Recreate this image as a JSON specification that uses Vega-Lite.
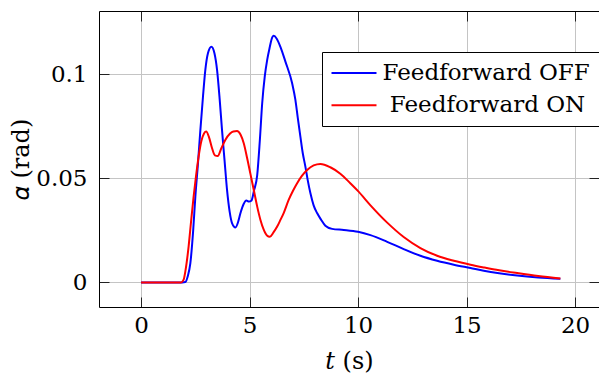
{
  "$schema": "https://vega.github.io/schema/vega-lite/v6.json",
  "width": 500,
  "height": 296,
  "autosize": {"type": "none"},
  "padding": {"left": 99, "top": 11, "right": 0, "bottom": 74},
  "background": "white",
  "config": {
    "view": {"stroke": null},
    "font": "DejaVu Serif",
    "axis": {
      "labelFont": "DejaVu Serif",
      "labelFontSize": 23,
      "labelColor": "black",
      "titleFont": "DejaVu Serif",
      "titleFontSize": 24,
      "titleFontWeight": "normal",
      "titleColor": "black",
      "domainColor": "black",
      "domainWidth": 1,
      "tickColor": "#222222",
      "tickWidth": 1,
      "tickSize": -10,
      "gridColor": "#c4c4c4",
      "gridWidth": 1
    },
    "legend": {
      "labelFont": "DejaVu Serif",
      "labelFontSize": 23,
      "labelColor": "black"
    }
  },
  "data": {
    "values": [
      {"t": 0, "alpha": 0, "series": "Feedforward OFF"},
      {"t": 1.0, "alpha": 0, "series": "Feedforward OFF"},
      {"t": 1.9, "alpha": 0, "series": "Feedforward OFF"},
      {"t": 2.04, "alpha": 0.0002, "series": "Feedforward OFF"},
      {"t": 2.15, "alpha": 0.003, "series": "Feedforward OFF"},
      {"t": 2.27, "alpha": 0.0093, "series": "Feedforward OFF"},
      {"t": 2.40, "alpha": 0.025, "series": "Feedforward OFF"},
      {"t": 2.50, "alpha": 0.0412, "series": "Feedforward OFF"},
      {"t": 2.62, "alpha": 0.057, "series": "Feedforward OFF"},
      {"t": 2.73, "alpha": 0.073, "series": "Feedforward OFF"},
      {"t": 2.85, "alpha": 0.089, "series": "Feedforward OFF"},
      {"t": 2.96, "alpha": 0.102, "series": "Feedforward OFF"},
      {"t": 3.08, "alpha": 0.110, "series": "Feedforward OFF"},
      {"t": 3.24, "alpha": 0.1131, "series": "Feedforward OFF"},
      {"t": 3.38, "alpha": 0.110, "series": "Feedforward OFF"},
      {"t": 3.50, "alpha": 0.102, "series": "Feedforward OFF"},
      {"t": 3.62, "alpha": 0.088, "series": "Feedforward OFF"},
      {"t": 3.73, "alpha": 0.073, "series": "Feedforward OFF"},
      {"t": 3.85, "alpha": 0.058, "series": "Feedforward OFF"},
      {"t": 3.96, "alpha": 0.0444, "series": "Feedforward OFF"},
      {"t": 4.08, "alpha": 0.034, "series": "Feedforward OFF"},
      {"t": 4.19, "alpha": 0.0285, "series": "Feedforward OFF"},
      {"t": 4.35, "alpha": 0.0264, "series": "Feedforward OFF"},
      {"t": 4.47, "alpha": 0.029, "series": "Feedforward OFF"},
      {"t": 4.58, "alpha": 0.0333, "series": "Feedforward OFF"},
      {"t": 4.72, "alpha": 0.0375, "series": "Feedforward OFF"},
      {"t": 4.85, "alpha": 0.0393, "series": "Feedforward OFF"},
      {"t": 4.97, "alpha": 0.0388, "series": "Feedforward OFF"},
      {"t": 5.08, "alpha": 0.0392, "series": "Feedforward OFF"},
      {"t": 5.20, "alpha": 0.044, "series": "Feedforward OFF"},
      {"t": 5.35, "alpha": 0.0515, "series": "Feedforward OFF"},
      {"t": 5.47, "alpha": 0.068, "series": "Feedforward OFF"},
      {"t": 5.58, "alpha": 0.086, "series": "Feedforward OFF"},
      {"t": 5.70, "alpha": 0.099, "series": "Feedforward OFF"},
      {"t": 5.81, "alpha": 0.1068, "series": "Feedforward OFF"},
      {"t": 5.93, "alpha": 0.113, "series": "Feedforward OFF"},
      {"t": 6.02, "alpha": 0.117, "series": "Feedforward OFF"},
      {"t": 6.11, "alpha": 0.1184, "series": "Feedforward OFF"},
      {"t": 6.25, "alpha": 0.117, "series": "Feedforward OFF"},
      {"t": 6.42, "alpha": 0.1131, "series": "Feedforward OFF"},
      {"t": 6.65, "alpha": 0.106, "series": "Feedforward OFF"},
      {"t": 6.96, "alpha": 0.0956, "series": "Feedforward OFF"},
      {"t": 7.11, "alpha": 0.0876, "series": "Feedforward OFF"},
      {"t": 7.22, "alpha": 0.079, "series": "Feedforward OFF"},
      {"t": 7.34, "alpha": 0.070, "series": "Feedforward OFF"},
      {"t": 7.45, "alpha": 0.062, "series": "Feedforward OFF"},
      {"t": 7.57, "alpha": 0.0556, "series": "Feedforward OFF"},
      {"t": 7.68, "alpha": 0.049, "series": "Feedforward OFF"},
      {"t": 7.80, "alpha": 0.0429, "series": "Feedforward OFF"},
      {"t": 7.95, "alpha": 0.037, "series": "Feedforward OFF"},
      {"t": 8.11, "alpha": 0.0333, "series": "Feedforward OFF"},
      {"t": 8.30, "alpha": 0.030, "series": "Feedforward OFF"},
      {"t": 8.49, "alpha": 0.0272, "series": "Feedforward OFF"},
      {"t": 8.80, "alpha": 0.0257, "series": "Feedforward OFF"},
      {"t": 9.34, "alpha": 0.0252, "series": "Feedforward OFF"},
      {"t": 10.0, "alpha": 0.0243, "series": "Feedforward OFF"},
      {"t": 10.57, "alpha": 0.0227, "series": "Feedforward OFF"},
      {"t": 11.34, "alpha": 0.0195, "series": "Feedforward OFF"},
      {"t": 12.10, "alpha": 0.016, "series": "Feedforward OFF"},
      {"t": 12.87, "alpha": 0.0128, "series": "Feedforward OFF"},
      {"t": 13.64, "alpha": 0.0104, "series": "Feedforward OFF"},
      {"t": 14.41, "alpha": 0.0085, "series": "Feedforward OFF"},
      {"t": 15.18, "alpha": 0.0069, "series": "Feedforward OFF"},
      {"t": 15.79, "alpha": 0.0056, "series": "Feedforward OFF"},
      {"t": 16.5, "alpha": 0.0044, "series": "Feedforward OFF"},
      {"t": 17.33, "alpha": 0.0033, "series": "Feedforward OFF"},
      {"t": 18.3, "alpha": 0.0024, "series": "Feedforward OFF"},
      {"t": 19.32, "alpha": 0.0018, "series": "Feedforward OFF"},
      {"t": 0, "alpha": 0, "series": "Feedforward ON"},
      {"t": 1.0, "alpha": 0, "series": "Feedforward ON"},
      {"t": 1.85, "alpha": 0, "series": "Feedforward ON"},
      {"t": 1.96, "alpha": 0.0013, "series": "Feedforward ON"},
      {"t": 2.05, "alpha": 0.006, "series": "Feedforward ON"},
      {"t": 2.19, "alpha": 0.0173, "series": "Feedforward ON"},
      {"t": 2.30, "alpha": 0.029, "series": "Feedforward ON"},
      {"t": 2.42, "alpha": 0.0412, "series": "Feedforward ON"},
      {"t": 2.53, "alpha": 0.051, "series": "Feedforward ON"},
      {"t": 2.65, "alpha": 0.0604, "series": "Feedforward ON"},
      {"t": 2.78, "alpha": 0.068, "series": "Feedforward ON"},
      {"t": 2.90, "alpha": 0.0715, "series": "Feedforward ON"},
      {"t": 3.00, "alpha": 0.0724, "series": "Feedforward ON"},
      {"t": 3.12, "alpha": 0.070, "series": "Feedforward ON"},
      {"t": 3.27, "alpha": 0.0644, "series": "Feedforward ON"},
      {"t": 3.40, "alpha": 0.061, "series": "Feedforward ON"},
      {"t": 3.53, "alpha": 0.0607, "series": "Feedforward ON"},
      {"t": 3.70, "alpha": 0.0645, "series": "Feedforward ON"},
      {"t": 3.88, "alpha": 0.0684, "series": "Feedforward ON"},
      {"t": 4.10, "alpha": 0.0715, "series": "Feedforward ON"},
      {"t": 4.25, "alpha": 0.0725, "series": "Feedforward ON"},
      {"t": 4.42, "alpha": 0.0727, "series": "Feedforward ON"},
      {"t": 4.58, "alpha": 0.071, "series": "Feedforward ON"},
      {"t": 4.73, "alpha": 0.0668, "series": "Feedforward ON"},
      {"t": 4.88, "alpha": 0.060, "series": "Feedforward ON"},
      {"t": 5.04, "alpha": 0.052, "series": "Feedforward ON"},
      {"t": 5.20, "alpha": 0.044, "series": "Feedforward ON"},
      {"t": 5.35, "alpha": 0.0364, "series": "Feedforward ON"},
      {"t": 5.50, "alpha": 0.030, "series": "Feedforward ON"},
      {"t": 5.65, "alpha": 0.0253, "series": "Feedforward ON"},
      {"t": 5.80, "alpha": 0.0225, "series": "Feedforward ON"},
      {"t": 5.93, "alpha": 0.0219, "series": "Feedforward ON"},
      {"t": 6.10, "alpha": 0.024, "series": "Feedforward ON"},
      {"t": 6.27, "alpha": 0.0268, "series": "Feedforward ON"},
      {"t": 6.42, "alpha": 0.030, "series": "Feedforward ON"},
      {"t": 6.57, "alpha": 0.0333, "series": "Feedforward ON"},
      {"t": 6.80, "alpha": 0.0396, "series": "Feedforward ON"},
      {"t": 7.00, "alpha": 0.044, "series": "Feedforward ON"},
      {"t": 7.19, "alpha": 0.0476, "series": "Feedforward ON"},
      {"t": 7.40, "alpha": 0.051, "series": "Feedforward ON"},
      {"t": 7.65, "alpha": 0.054, "series": "Feedforward ON"},
      {"t": 7.95, "alpha": 0.0562, "series": "Feedforward ON"},
      {"t": 8.26, "alpha": 0.0569, "series": "Feedforward ON"},
      {"t": 8.72, "alpha": 0.0553, "series": "Feedforward ON"},
      {"t": 9.18, "alpha": 0.0522, "series": "Feedforward ON"},
      {"t": 9.65, "alpha": 0.0475, "series": "Feedforward ON"},
      {"t": 10.0, "alpha": 0.0438, "series": "Feedforward ON"},
      {"t": 10.57, "alpha": 0.037, "series": "Feedforward ON"},
      {"t": 11.34, "alpha": 0.0287, "series": "Feedforward ON"},
      {"t": 12.10, "alpha": 0.0218, "series": "Feedforward ON"},
      {"t": 12.87, "alpha": 0.0165, "series": "Feedforward ON"},
      {"t": 13.64, "alpha": 0.0128, "series": "Feedforward ON"},
      {"t": 14.41, "alpha": 0.0104, "series": "Feedforward ON"},
      {"t": 15.18, "alpha": 0.0085, "series": "Feedforward ON"},
      {"t": 15.79, "alpha": 0.0072, "series": "Feedforward ON"},
      {"t": 16.5, "alpha": 0.0058, "series": "Feedforward ON"},
      {"t": 17.33, "alpha": 0.0045, "series": "Feedforward ON"},
      {"t": 18.3, "alpha": 0.0031, "series": "Feedforward ON"},
      {"t": 19.32, "alpha": 0.0019, "series": "Feedforward ON"}
    ]
  },
  "layer": [
    {
      "mark": {"type": "line", "interpolate": "monotone", "strokeWidth": 2, "clip": true},
      "encoding": {
        "x": {
          "field": "t", "type": "quantitative",
          "scale": {"domain": [-1.94, 21.1], "nice": false, "zero": false},
          "axis": {
            "orient": "bottom", "values": [0, 5, 10, 15, 20], "format": "~g",
            "grid": true, "labelPadding": 17, "title": "𝑡 (s)", "titlePadding": 12
          }
        },
        "y": {
          "field": "alpha", "type": "quantitative",
          "scale": {"domain": [-0.0118, 0.1303], "nice": false, "zero": false},
          "axis": {
            "orient": "left", "values": [0, 0.05, 0.1], "format": "~g",
            "grid": true, "labelPadding": 22, "title": "𝛼 (rad)", "titlePadding": 2
          }
        },
        "color": {
          "field": "series", "type": "nominal",
          "scale": {"domain": ["Feedforward OFF", "Feedforward ON"], "range": ["#0000ff", "#ff0000"]},
          "legend": {
            "orient": "none", "legendX": 223, "legendY": 41, "title": null,
            "strokeColor": "black", "fillColor": "white", "padding": 8.5,
            "symbolType": "M-2,0H2", "symbolSize": 506, "symbolStrokeWidth": 2,
            "symbolOffset": 11, "labelOffset": 16,
            "rowPadding": 7.3, "labelLimit": 0, "cornerRadius": 0,
            "labelExpr": "indexof(datum.label, 'ON') > 0 ? '\u200b\u00a0' + datum.label : datum.label"
          }
        }
      }
    },
    {
      "mark": {"type": "line", "opacity": 0, "clip": true},
      "encoding": {
        "x": {
          "field": "t", "type": "quantitative",
          "axis": {"orient": "top", "values": [0, 5, 10, 15, 20], "labels": false, "title": null, "grid": false}
        },
        "y": {
          "field": "alpha", "type": "quantitative",
          "axis": {"orient": "right", "values": [0, 0.05, 0.1], "labels": false, "title": null, "grid": false, "domain": false}
        },
        "detail": {"field": "series", "type": "nominal"}
      }
    }
  ],
  "resolve": {"axis": {"x": "independent", "y": "independent"}}
}
